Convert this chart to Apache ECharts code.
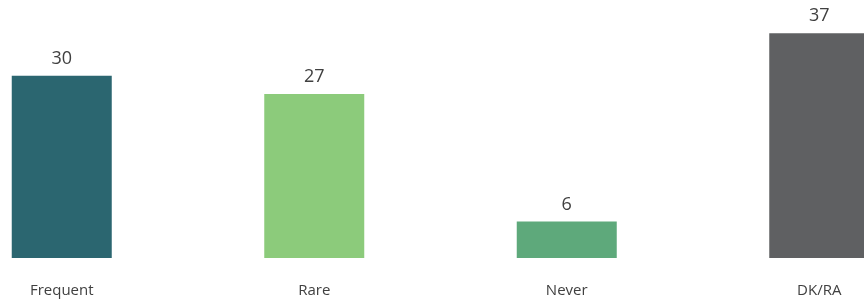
<!DOCTYPE html>
<html>
<head>
<meta charset="utf-8">
<script src="https://cdn.jsdelivr.net/npm/echarts@6/dist/echarts.min.js"></script>
<style>
  html, body { margin: 0; padding: 0; background: #fff; }
  #chart { width: 864px; height: 299px; }
</style>
</head>
<body>
<div id="chart"></div>
<script>
const categories = ['Frequent', 'Rare', 'Never', 'DK/RA'];
const values = [30, 27, 6, 37];
const barColors = ['#2b6670', '#8ccb7b', '#5ea97b', '#5f6062'];

const chart = echarts.init(document.getElementById('chart'));

chart.setOption({
  animation: false,
  grid: { left: -64.5, width: 1010, top: 15, bottom: 41, outerBoundsMode: 'none', containLabel: false },
  xAxis: {
    type: 'category',
    data: categories,
    axisLine: { show: false },
    axisTick: { show: false },
    axisLabel: {
      color: '#404040',
      fontFamily: 'Open Sans',
      fontSize: 15,
      margin: 25
    }
  },
  yAxis: {
    type: 'value',
    min: 0,
    max: 40,
    show: false,
    splitLine: { show: false }
  },
  series: [{
    type: 'bar',
    barWidth: 100,
    data: values.map((v, i) => ({ value: v, itemStyle: { color: barColors[i] } })),
    label: {
      show: true,
      position: 'top',
      distance: 8,
      color: '#404040',
      fontFamily: 'Open Sans',
      fontSize: 18
    }
  }]
});
</script>
</body>
</html>
